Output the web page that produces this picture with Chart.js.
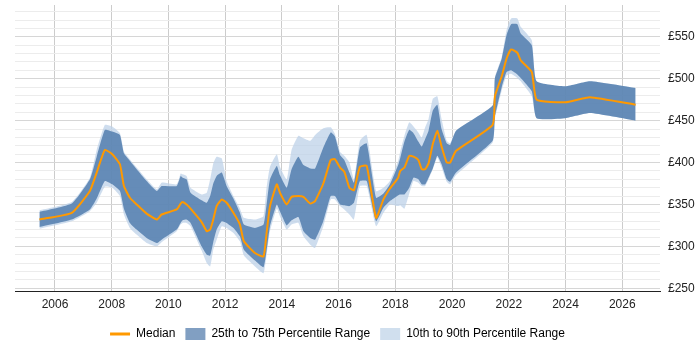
<!DOCTYPE html>
<html lang="en">
<head>
  <meta charset="UTF-8" />
  <title>Rate trend</title>
  <script src="https://cdn.jsdelivr.net/npm/chart.js"></script>
  <style>
    body { margin: 0; background: #fff; }
    .wrap { width: 700px; height: 350px; }
  </style>
</head>
<body>
  <div class="wrap"><canvas id="trend"></canvas></div>

  <script>
    // decimal years
    const years = [2005.45, 2006.59, 2007.23, 2007.47, 2007.76, 2008.02, 2008.29, 2008.43, 2008.64, 2008.88,
      2009.23, 2009.59, 2009.76, 2010.29, 2010.43, 2010.5, 2010.64, 2010.78, 2011.17, 2011.35,
      2011.47, 2011.58, 2011.7, 2011.88, 2012.05, 2012.29, 2012.52, 2012.66, 2013.05, 2013.35,
      2013.46, 2013.58, 2013.82, 2013.93, 2014.17, 2014.34, 2014.58, 2014.76, 2015.0, 2015.17,
      2015.46, 2015.72, 2015.87, 2016.05, 2016.2, 2016.38, 2016.54, 2016.75, 2016.99, 2017.32,
      2017.58, 2017.81, 2018.1, 2018.17, 2018.32, 2018.49, 2018.64, 2018.81, 2018.93, 2019.05,
      2019.17, 2019.32, 2019.48, 2019.63, 2019.81, 2019.93, 2020.14, 2021.43, 2021.51, 2021.75,
      2021.92, 2022.08, 2022.3, 2022.42, 2022.81, 2022.98, 2024.0, 2024.86, 2026.47];

    const median = [332, 340, 366, 388, 415, 410, 398, 372, 358, 350,
      339, 332, 338, 344, 351, 353, 350, 345, 329, 318,
      320, 332, 348, 356, 352, 340, 326, 306, 292, 288,
      316, 348, 374, 364, 350, 359, 360, 359, 351, 354,
      375, 403, 404, 394, 389, 370, 367, 395, 396, 334,
      356, 369, 382, 390, 394, 408, 407, 403, 392, 392,
      399, 422, 438, 419, 400, 400, 414, 445, 479, 503,
      524, 535, 531, 522, 508, 475, 472, 478, 469];

    const p25 = [323, 332, 344, 357, 378, 374, 366, 345, 328, 320,
      310, 304, 308, 320, 328, 331, 332, 328, 300, 290,
      289, 305, 320, 330, 328, 322, 312, 296, 283, 275,
      295, 324, 350, 342, 325, 331, 335, 318, 310, 308,
      330, 360, 360, 350, 349, 348, 352, 378, 378, 330,
      346, 354, 361, 362, 362, 370, 382, 380, 374, 374,
      382, 393, 408, 398, 380, 377, 388, 426, 455, 490,
      508, 510, 505, 501, 485, 453, 453, 459, 450];

    const p75 = [341, 351, 380, 407, 439, 437, 433, 411, 402, 392,
      378, 366, 372, 372, 384, 382, 380, 364, 355, 352,
      360, 375, 384, 388, 372, 357, 340, 326, 322, 326,
      350, 380, 396, 385, 370, 392, 407, 397, 393, 393,
      418, 436, 431, 409, 403, 388, 376, 418, 423, 358,
      363, 374, 397, 405, 425, 439, 435, 425, 419, 428,
      438, 462, 469, 440, 423, 421, 438, 468, 501, 524,
      552, 565, 565, 554, 540, 497, 491, 497, 489];

    const p10 = [321, 330, 342, 352, 371, 370, 360, 338, 322, 314,
      304, 300, 305, 318, 326, 328, 328, 324, 295, 280,
      276, 296, 308, 324, 322, 316, 306, 289, 276, 268,
      290, 318, 345, 336, 320, 326, 328, 312, 302, 298,
      324, 356, 356, 348, 344, 338, 332, 372, 372, 324,
      340, 350, 348, 349, 345, 363, 378, 376, 372, 372,
      380, 392, 406, 394, 377, 374, 385, 424, 452, 486,
      504, 506, 501, 497, 479, 453, 453, 459, 450];

    const p90 = [343, 353, 382, 415, 445, 443, 435, 413, 404, 394,
      380, 368, 376, 374, 387, 386, 384, 370, 362, 364,
      380, 399, 407, 405, 378, 360, 345, 334, 332, 336,
      370, 395, 410, 395, 380, 415, 432, 429, 426, 433,
      441, 442, 434, 413, 408, 400, 380, 426, 433, 366,
      370, 378, 402, 413, 432, 448, 443, 436, 430, 442,
      452, 476, 479, 452, 426, 423, 438, 468, 502, 526,
      558, 572, 572, 562, 546, 497, 491, 497, 489];

    const xTicks = [2006, 2008, 2010, 2012, 2014, 2016, 2018, 2020, 2022, 2024, 2026];
    const yTicks = [250, 260, 270, 280, 290, 300, 310, 320, 330, 340, 350, 360, 370, 380, 390,
      400, 410, 420, 430, 440, 450, 460, 470, 480, 490, 500, 510, 520, 530, 540, 550,
      560, 570, 580];

    function toPoints(values) {
      return years.map((x, i) => ({ x: x, y: values[i] }));
    }

    const band = {
      pointRadius: 0,
      pointHoverRadius: 0,
      borderWidth: 0,
      tension: 0.15
    };

    new Chart(document.getElementById('trend'), {
      type: 'line',
      data: {
        datasets: [
          Object.assign({ label: '10th to 90th Percentile Range', data: toPoints(p90),
            backgroundColor: 'rgba(190,210,232,0.75)', fill: '+1', order: 2 }, band),
          Object.assign({ label: '', data: toPoints(p10), fill: false, order: 2 }, band),
          Object.assign({ label: '25th to 75th Percentile Range', data: toPoints(p75),
            backgroundColor: 'rgba(75,120,170,0.8)', fill: '+1', order: 1 }, band),
          Object.assign({ label: '', data: toPoints(p25), fill: false, order: 1 }, band),
          {
            label: 'Median',
            data: toPoints(median),
            borderColor: '#ff9900',
            borderWidth: 2,
            pointRadius: 0,
            fill: false,
            tension: 0.15,
            order: 0
          }
        ]
      },
      options: {
        responsive: true,
        maintainAspectRatio: false,
        animation: false,
        layout: { padding: { left: 15, top: 5, right: 0, bottom: 0 } },
        font: { family: '"Liberation Sans", Arial, sans-serif', size: 12 },
        plugins: {
          tooltip: { enabled: false },
          legend: {
            position: 'bottom',
            fullSize: false,
            labels: {
              color: '#222',
              font: { family: '"Liberation Sans", Arial, sans-serif', size: 12 },
              usePointStyle: true,
              pointStyleWidth: 20,
              boxHeight: 12,
              padding: 10,
              generateLabels: () => [
                { text: 'Median', fillStyle: '#ff9900', strokeStyle: '#ff9900', lineWidth: 3,
                  pointStyle: 'line', datasetIndex: 4 },
                { text: '25th to 75th Percentile Range', fillStyle: '#819fc2', strokeStyle: '#819fc2',
                  lineWidth: 0, pointStyle: 'rect', datasetIndex: 2 },
                { text: '10th to 90th Percentile Range', fillStyle: '#d0dfee', strokeStyle: '#d0dfee',
                  lineWidth: 0, pointStyle: 'rect', datasetIndex: 0 }
              ]
            }
          }
        },
        scales: {
          x: {
            type: 'linear',
            min: 2004.59,
            max: 2027.33,
            afterBuildTicks: s => { s.ticks = xTicks.map(v => ({ value: v })); },
            afterFit: s => { s.paddingLeft = 0; s.paddingRight = 0; },
            grid: { color: '#cccccc', drawTicks: false },
            border: { color: '#222', width: 1 },
            ticks: {
              color: '#222',
              padding: 6,
              maxRotation: 0,
              font: { family: '"Liberation Sans", Arial, sans-serif', size: 12 },
              callback: v => String(v)
            }
          },
          y: {
            position: 'right',
            min: 246,
            max: 588,
            afterBuildTicks: s => { s.ticks = yTicks.map(v => ({ value: v })); },
            afterFit: s => { s.paddingTop = 0; s.paddingBottom = 0; s.width = 40; },
            grid: {
              drawTicks: false,
              color: c => (c.tick && c.tick.value % 50 === 0) ? '#d6d6d6' : '#ececec'
            },
            border: { display: false },
            ticks: {
              color: '#222',
              padding: 8,
              autoSkip: false,
              font: { family: '"Liberation Sans", Arial, sans-serif', size: 12 },
              callback: v => v % 50 === 0 ? '£' + v : ''
            }
          }
        }
      }
    });
  </script>
</body>
</html>
